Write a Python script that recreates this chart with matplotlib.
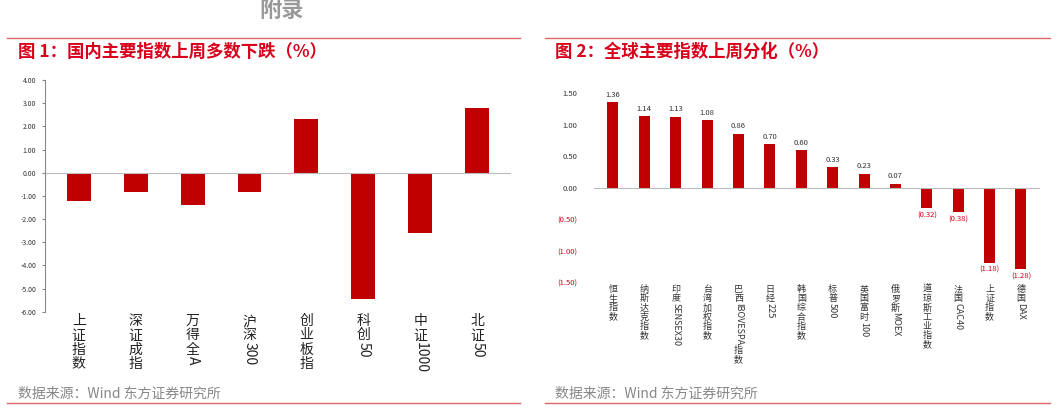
import matplotlib.pyplot as plt
import numpy as np
import re

plt.rcParams['font.family'] = ['Noto Sans CJK SC', 'DejaVu Sans']

# left chart data
cn_names = ['上证指数', '深证成指', '万得全A', '沪深300', '创业板指', '科创50', '中证1000', '北证50']
cn_vals = [-1.20, -0.85, -1.38, -0.82, 2.33, -5.45, -2.60, 2.78]

# right chart data
gl_names = ['恒生指数', '纳斯达克指数', '印度SENSEX30', '台湾加权指数', '巴西IBOVESPA指数', '日经225',
            '韩国综合指数', '标普500', '英国富时100', '俄罗斯MOEX', '道琼斯工业指数', '法国CAC40',
            '上证指数', '德国DAX']
gl_vals = [1.36, 1.14, 1.13, 1.08, 0.86, 0.70, 0.60, 0.33, 0.23, 0.07, -0.32, -0.38, -1.18, -1.28]

RED = '#c00000'
fig = plt.figure(figsize=(10.61, 4.12), dpi=100)
renderer = fig.canvas.get_renderer()


def vlabel(ax, xpos, ypos, label, size, color):
    # CJK chars upright stacked, latin runs rotated
    off = 0.0
    for run in re.findall(r'[\u4e00-\u9fff]|[^\u4e00-\u9fff]+', label):
        if re.match(r'[\u4e00-\u9fff]', run):
            ax.annotate(run, (xpos, ypos), xytext=(0, -off), textcoords='offset points',
                        ha='center', va='top', fontsize=size, color=color, annotation_clip=False)
            off += size * 1.02
        else:
            t = ax.annotate(run, (xpos, ypos), xytext=(0, -off + size * 0.02), textcoords='offset points',
                            ha='center', va='top', fontsize=size, color=color, rotation=-90,
                            annotation_clip=False)
            h = t.get_window_extent(renderer).height * 72 / fig.dpi
            off += h


# frame lines / titles
for x0, x1 in [(0.007, 0.49), (0.514, 0.99)]:
    fig.add_artist(plt.Line2D([x0, x1], [0.908, 0.908], color='#e06666', lw=1))
    fig.add_artist(plt.Line2D([x0, x1], [0.022, 0.022], color='#e06666', lw=1))
fig.text(0.017, 0.875, '图 1：国内主要指数上周多数下跌（%）', color='#d9001b', fontsize=12.5,
         fontweight='bold', va='center')
fig.text(0.523, 0.875, '图 2：全球主要指数上周分化（%）', color='#d9001b', fontsize=12.5,
         fontweight='bold', va='center')
fig.text(0.017, 0.045, '数据来源：Wind 东方证券研究所', color='#888888', fontsize=10, va='center')
fig.text(0.523, 0.045, '数据来源：Wind 东方证券研究所', color='#888888', fontsize=10, va='center')
fig.text(0.265, 0.975, '附录', color='#999999', fontsize=16, fontweight='bold', ha='center', va='center')

# left
ax1 = fig.add_axes([0.042, 0.243, 0.44, 0.563])
x = np.arange(len(cn_names))
ax1.bar(x, cn_vals, width=0.42, color=RED)
ax1.set_ylim(-6, 4)
ax1.set_xlim(-0.6, len(cn_names) - 0.4)
ax1.set_yticks(np.arange(-6, 4.01, 1))
ax1.set_yticklabels([f'{v:.2f}' for v in np.arange(-6, 4.01, 1)], fontsize=5, color='#333333')
ax1.axhline(0, color='#bbbbbb', lw=0.8)
ax1.set_xticks([])
for s in ['top', 'right', 'bottom']:
    ax1.spines[s].set_visible(False)
ax1.spines['left'].set_color('#888888')
ax1.tick_params(axis='y', length=2, color='#888888', pad=4)
for i, n in enumerate(cn_names):
    vlabel(ax1, i, -6.1, n, 10, '#222222')

# right
ax2 = fig.add_axes([0.56, 0.313, 0.42, 0.461])
x = np.arange(len(gl_names))
ax2.bar(x, gl_vals, width=0.35, color=RED)
ax2.set_ylim(-1.5, 1.5)
ax2.set_xlim(-0.6, len(gl_names) - 0.4)
ticks = np.arange(-1.5, 1.51, 0.5)
ax2.set_yticks(ticks)
ax2.set_yticklabels([f'{v:.2f}' if v >= 0 else f'({-v:.2f})' for v in ticks], fontsize=5.5)
for lab, v in zip(ax2.get_yticklabels(), ticks):
    lab.set_color('#d9001b' if v < 0 else '#333333')
ax2.axhline(0, color='#bbbbbb', lw=0.8)
ax2.set_xticks([])
for s in ax2.spines.values():
    s.set_visible(False)
ax2.tick_params(axis='y', length=0, pad=12)
for i, v in enumerate(gl_vals):
    if v >= 0:
        ax2.text(i, v + 0.05, f'{v:.2f}', ha='center', va='bottom', fontsize=5.5, color='#333333')
    else:
        ax2.text(i, v - 0.05, f'({-v:.2f})', ha='center', va='top', fontsize=5.5, color='#d9001b')
for i, n in enumerate(gl_names):
    vlabel(ax2, i, -1.53, n, 6.5, '#333333')

fig.savefig('out.png', dpi=100)
